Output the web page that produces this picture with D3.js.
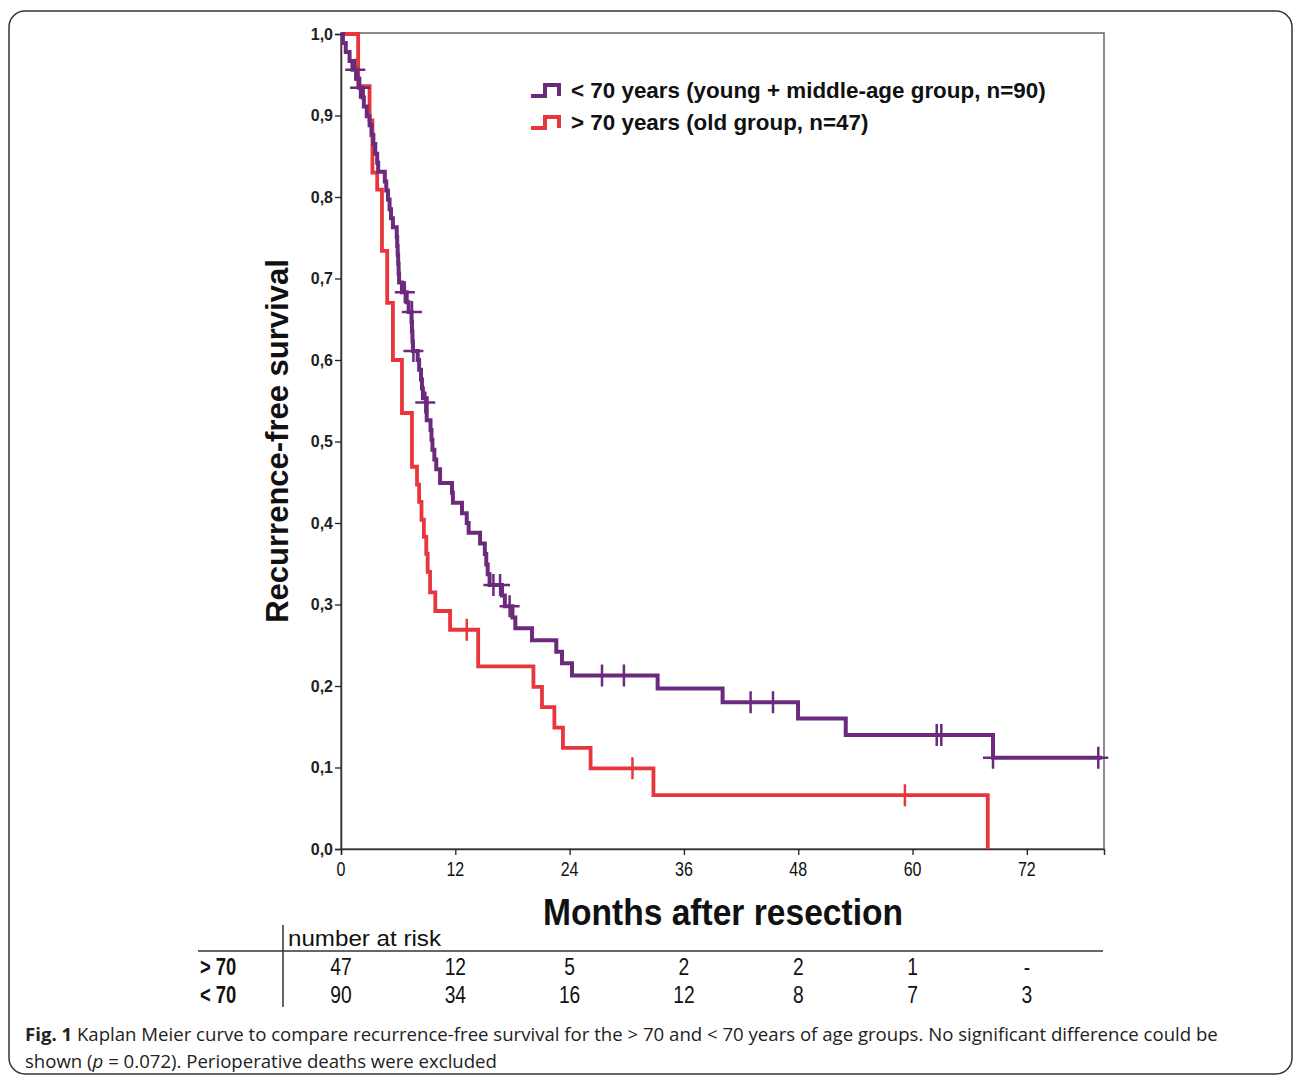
<!DOCTYPE html>
<html>
<head>
<meta charset="utf-8">
<script src="https://cdn.jsdelivr.net/npm/d3@7"></script>
<style>
  body { margin: 0; background: #fff; }
  svg { display: block; }
</style>
</head>
<body>
<script>
// Kaplan-Meier steps: [month, survival after event]
const oldSteps = [
  [0, 1.0], [1.8, 0.936], [3.0, 0.894], [3.3, 0.830], [3.8, 0.809], [4.3, 0.734],
  [4.85, 0.670], [5.45, 0.600], [6.4, 0.535], [7.45, 0.469], [7.98, 0.447],
  [8.2, 0.426], [8.45, 0.404], [8.7, 0.383], [8.95, 0.362], [9.1, 0.340],
  [9.35, 0.315], [9.9, 0.292], [11.45, 0.269], [14.4, 0.224], [20.2, 0.199],
  [21.1, 0.174], [22.4, 0.149], [23.3, 0.124], [26.2, 0.099], [32.8, 0.066],
  [67.9, 0.0]
];
const oldCensor = [[13.2, 0.269], [30.6, 0.099], [59.2, 0.066]];

const youngSteps = [
  [0, 1.0], [0.2, 0.989], [0.5, 0.978], [0.9, 0.967], [1.2, 0.956], [1.7, 0.945],
  [1.9, 0.934], [2.3, 0.922], [2.4, 0.911], [2.7, 0.899], [3.0, 0.888], [3.2, 0.876],
  [3.4, 0.865], [3.6, 0.853], [3.8, 0.842], [3.9, 0.831], [4.6, 0.819], [4.75, 0.808],
  [4.93, 0.797], [5.1, 0.785], [5.25, 0.774], [5.45, 0.763], [5.85, 0.751],
  [5.9, 0.740], [5.95, 0.729], [6.0, 0.718], [6.05, 0.706], [6.1, 0.695],
  [6.4, 0.683], [6.9, 0.671], [7.1, 0.659], [7.4, 0.647], [7.45, 0.635],
  [7.5, 0.623], [7.55, 0.611], [8.05, 0.600], [8.2, 0.588], [8.4, 0.576],
  [8.5, 0.565], [8.6, 0.553], [9.0, 0.526], [9.4, 0.514], [9.5, 0.502],
  [9.6, 0.490], [9.8, 0.478], [10.0, 0.466], [10.4, 0.449], [11.65, 0.437],
  [11.75, 0.425], [12.7, 0.412], [13.2, 0.400], [13.4, 0.388], [14.6, 0.375],
  [15.1, 0.362], [15.25, 0.349], [15.4, 0.337], [15.6, 0.324], [16.9, 0.311],
  [17.2, 0.298], [18.0, 0.284], [18.3, 0.271], [20.05, 0.256], [22.6, 0.242],
  [23.2, 0.228], [24.25, 0.213], [33.24, 0.197], [40.06, 0.180], [47.98, 0.160],
  [52.99, 0.140], [68.45, 0.112], [79.9, 0.112]
];
const youngCensor = [
  [1.5, 0.956], [2.0, 0.934], [6.7, 0.683], [7.45, 0.659], [7.6, 0.611],
  [8.85, 0.548], [16.0, 0.324], [16.7, 0.324], [17.7, 0.298], [27.4, 0.213],
  [29.7, 0.213], [43.0, 0.180], [45.35, 0.180], [62.54, 0.140], [63.02, 0.140],
  [68.45, 0.112], [79.5, 0.112]
];

const xTicks = [0, 12, 24, 36, 48, 60, 72];
const yTicks = [0, 0.1, 0.2, 0.3, 0.4, 0.5, 0.6, 0.7, 0.8, 0.9, 1.0];
const riskRows = ['> 70', '< 70'];
const riskOld = ['47', '12', '5', '2', '2', '1', '-'];
const riskYoung = ['90', '34', '16', '12', '8', '7', '3'];
const legendLabels = ['< 70 years (young + middle-age group, n=90)', '> 70 years (old group, n=47)'];

const purple = '#6c2a7c';
const red = '#e8363c';
const sans = 'Liberation Sans, Arial, sans-serif';
const squeeze = 0.8; // the chart's labels use a condensed face

const svg = d3.select('body').append('svg')
  .attr('width', 1296)
  .attr('height', 1079);

// outer panel
svg.append('rect')
  .attr('x', 9).attr('y', 11)
  .attr('width', 1283).attr('height', 1063)
  .attr('rx', 16)
  .attr('fill', 'none')
  .attr('stroke', '#333')
  .attr('stroke-width', 1.5);

const x = d3.scaleLinear().domain([0, 80.1]).range([341, 1104]);
const y = d3.scaleLinear().domain([0, 1]).range([849, 34]);

// plot frame
svg.append('rect')
  .attr('x', 341).attr('y', 33)
  .attr('width', 763).attr('height', 816)
  .attr('fill', 'none')
  .attr('stroke', '#666')
  .attr('stroke-width', 1.5);

// condensed text helper
function narrowText(sel, tx, ty, size, anchor, weight) {
  return sel.append('text')
    .attr('transform', `translate(${tx},${ty}) scale(${squeeze},1)`)
    .attr('text-anchor', anchor || 'start')
    .attr('font-family', sans)
    .attr('font-size', size)
    .attr('font-weight', weight || 'normal')
    .attr('fill', '#111');
}

const xaxis = d3.axisBottom(x).tickValues(xTicks).tickSize(6).tickFormat('');
const yaxis = d3.axisLeft(y).tickValues(yTicks).tickSize(6)
  .tickFormat(d => d3.format('.1f')(d).replace('.', ','));

const gx = svg.append('g').attr('transform', 'translate(0, 849)').call(xaxis);
gx.select('.domain').attr('stroke', '#333').attr('stroke-width', 1.5);
gx.selectAll('.tick line').attr('stroke', '#222').attr('stroke-width', 1.3);
xTicks.forEach(t => narrowText(svg, x(t), 876, 20, 'middle').text(t));

const gy = svg.append('g').attr('transform', 'translate(341, 0)').call(yaxis);
gy.select('.domain').attr('stroke', '#333').attr('stroke-width', 1.5);
gy.selectAll('.tick line').attr('stroke', '#222').attr('stroke-width', 1.3);
gy.selectAll('.tick text')
  .attr('x', -8)
  .attr('font-family', sans)
  .attr('font-size', 16)
  .attr('font-weight', 'bold')
  .attr('fill', '#222');

// axis titles
svg.append('text')
  .attr('transform', 'translate(288, 441) rotate(-90)')
  .attr('text-anchor', 'middle')
  .attr('font-family', sans)
  .attr('font-weight', 'bold')
  .attr('font-size', 31)
  .attr('fill', '#111')
  .text('Recurrence-free survival');

narrowText(svg, 723, 925, 37, 'middle', 'bold')
  .attr('textLength', 360 / squeeze)
  .attr('lengthAdjust', 'spacingAndGlyphs')
  .text('Months after resection');

// curves
const line = d3.line()
  .x(d => x(d[0]))
  .y(d => y(d[1]))
  .curve(d3.curveStepAfter);

const curves = [
  { steps: oldSteps, censor: oldCensor, color: red, width: 3.8 },
  { steps: youngSteps, censor: youngCensor, color: purple, width: 4 }
];

curves.forEach(c => {
  svg.append('path')
    .datum(c.steps)
    .attr('d', line)
    .attr('fill', 'none')
    .attr('stroke', c.color)
    .attr('stroke-width', c.width)
    .attr('stroke-linejoin', 'miter');

  svg.selectAll(null)
    .data(c.censor)
    .enter()
    .append('path')
    .attr('d', d => {
      const cx = x(d[0]), cy = y(d[1]);
      return `M${cx - 10},${cy}H${cx + 10}M${cx},${cy - 11}V${cy + 11}`;
    })
    .attr('stroke', c.color)
    .attr('stroke-width', 2.5)
    .attr('fill', 'none');
});

// legend
const legend = svg.append('g');
[purple, red].forEach((col, i) => {
  const ly = 90 + i * 32;
  legend.append('path')
    .attr('d', `M531,${ly + 6}H545V${ly - 5}H559V${ly + 6}`)
    .attr('fill', 'none')
    .attr('stroke', col)
    .attr('stroke-width', 4);
  legend.append('text')
    .attr('x', 571).attr('y', ly + 8)
    .attr('font-family', sans)
    .attr('font-weight', 'bold')
    .attr('font-size', 22.4)
    .attr('fill', '#111')
    .text(legendLabels[i]);
});

// number at risk table
svg.append('line')
  .attr('x1', 198).attr('x2', 1103)
  .attr('y1', 951).attr('y2', 951)
  .attr('stroke', '#333').attr('stroke-width', 1.5);
svg.append('line')
  .attr('x1', 283).attr('x2', 283)
  .attr('y1', 925).attr('y2', 1007)
  .attr('stroke', '#333').attr('stroke-width', 1.5);

narrowText(svg, 288, 946, 22)
  .attr('textLength', 153 / squeeze)
  .attr('lengthAdjust', 'spacingAndGlyphs')
  .text('number at risk');

[riskOld, riskYoung].forEach((row, i) => {
  const ry = 975 + i * 28;
  narrowText(svg, 200, ry, 23, 'start', 'bold').text(riskRows[i]);
  row.forEach((v, j) => narrowText(svg, x(xTicks[j]), ry, 24, 'middle').text(v));
});

// caption
const cap1 = svg.append('text')
  .attr('x', 25).attr('y', 1041)
  .attr('font-family', 'Open Sans, Noto Sans, sans-serif')
  .attr('font-size', 18.6)
  .attr('fill', '#222');
cap1.append('tspan').attr('font-weight', 'bold').text('Fig. 1');
cap1.append('tspan').text(' Kaplan Meier curve to compare recurrence-free survival for the > 70 and < 70 years of age groups. No significant difference could be');

const cap2 = svg.append('text')
  .attr('x', 25).attr('y', 1068)
  .attr('font-family', 'Open Sans, Noto Sans, sans-serif')
  .attr('font-size', 18.6)
  .attr('fill', '#222');
cap2.append('tspan').text('shown (');
cap2.append('tspan').attr('font-style', 'italic').text('p');
cap2.append('tspan').text(' = 0.072). Perioperative deaths were excluded');
</script>
</body>
</html>
